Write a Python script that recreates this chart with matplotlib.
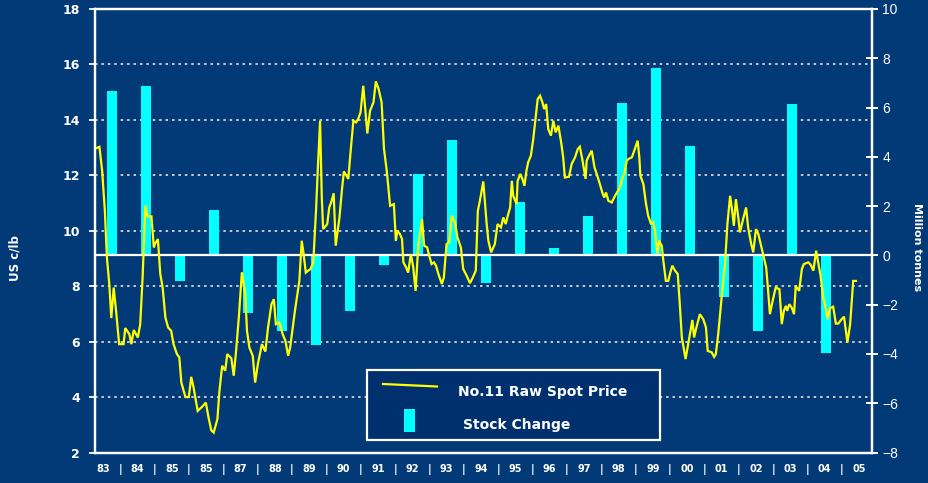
import numpy as np
import matplotlib
matplotlib.use("Agg")
import matplotlib.pyplot as plt
from matplotlib.lines import Line2D
from matplotlib.patches import Rectangle

# ---------------- data ----------------
year_labels = ["83", "84", "85", "85", "87", "88", "89", "90", "91", "92", "93",
               "94", "95", "96", "97", "98", "99", "00", "01", "02", "03", "04", "05"]

stock_years = np.arange(1983, 2005)
stock_change = [6.69, 6.86, -1.04, 1.83, -2.34, -3.07, -3.64, -2.26, -0.39, 3.29, 4.67,
                -1.11, 2.15, 0.28, 1.58, 6.20, 7.59, 4.42, -1.69, -3.07, 6.13, -3.96]

price_t_offset = [
    0.06, 0.13, 0.21, 0.29, 0.35, 0.42, 0.48, 0.55, 0.62, 0.71, 0.84, 0.89, 1.01, 1.07, 1.14,
    1.26, 1.33, 1.40, 1.48, 1.54, 1.66, 1.73, 1.77, 1.85, 1.92, 1.99, 2.07, 2.15, 2.24, 2.31,
    2.41, 2.48, 2.54, 2.66, 2.76, 2.83, 2.90, 3.02, 3.15, 3.26, 3.34, 3.42, 3.49, 3.60, 3.66,
    3.74, 3.83, 3.89, 4.01, 4.08, 4.15, 4.23, 4.32, 4.42, 4.47, 4.54, 4.64, 4.71, 4.79, 4.91,
    5.01, 5.09, 5.19, 5.26, 5.32, 5.42, 5.52, 5.60, 5.68, 5.74, 5.88, 6.01, 6.08, 6.13, 6.20,
    6.27, 6.34, 6.42, 6.50, 6.56, 6.62, 6.67, 6.71, 6.83, 6.89, 6.96, 7.02, 7.08, 7.19, 7.26,
    7.32, 7.45, 7.52, 7.60, 7.68, 7.74, 7.81, 7.89, 8.01, 8.09, 8.19, 8.26, 8.34, 8.43, 8.50,
    8.58, 8.68, 8.79, 8.85, 8.89, 8.97, 9.03, 9.07, 9.15, 9.21, 9.29, 9.36, 9.43, 9.51, 9.56,
    9.62, 9.68, 9.77, 9.83, 9.90, 9.97, 10.03, 10.10, 10.20, 10.26, 10.34, 10.42, 10.49, 10.59,
    10.66, 10.76, 10.83, 10.93, 11.03, 11.11, 11.20, 11.26, 11.32, 11.42, 11.52, 11.57, 11.65,
    11.76, 11.84, 11.94, 12.01, 12.08, 12.14, 12.21, 12.26, 12.30, 12.40, 12.43, 12.51, 12.57,
    12.63, 12.69, 12.74, 12.82, 12.89, 12.96, 13.02, 13.09, 13.16, 13.21, 13.27, 13.33, 13.41,
    13.48, 13.55, 13.63, 13.71, 13.77, 13.82, 13.94, 14.02, 14.12, 14.20, 14.26, 14.33, 14.43,
    14.46, 14.53, 14.61, 14.69, 14.79, 14.85, 14.92, 14.98, 15.03, 15.10, 15.20, 15.27, 15.35,
    15.44, 15.51, 15.57, 15.64, 15.69, 15.79, 15.86, 15.96, 16.01, 16.04, 16.13, 16.20, 16.27,
    16.35, 16.42, 16.47, 16.54, 16.59, 16.67, 16.71, 16.79, 16.86, 16.92, 16.98, 17.06, 17.14,
    17.20, 17.26, 17.37, 17.48, 17.57, 17.62, 17.70, 17.79, 17.89, 17.97, 18.02, 18.14, 18.21,
    18.26, 18.33, 18.43, 18.53, 18.60, 18.68, 18.74, 18.79, 18.85, 18.92, 18.97, 19.05, 19.15,
    19.21, 19.29, 19.36, 19.44, 19.51, 19.58, 19.66, 19.74, 19.79, 19.85, 19.93, 20.02, 20.13,
    20.20, 20.26, 20.32, 20.36, 20.42, 20.49, 20.56, 20.61, 20.71, 20.79, 20.85, 20.98, 21.05,
    21.13, 21.21, 21.27, 21.34, 21.42, 21.49, 21.55, 21.62, 21.71, 21.79, 21.86, 21.96, 22.03,
    22.13, 22.21, 22.30, 22.38]

price_value = [
    12.99, 13.03, 12.17, 10.72, 9.04, 8.08, 6.85, 7.95, 7.11, 5.91, 5.91, 6.49, 6.27, 5.91, 6.42,
    6.15, 6.63, 8.31, 10.90, 10.52, 10.52, 9.40, 9.54, 9.70, 8.44, 7.95, 6.87, 6.51, 6.39, 5.91,
    5.55, 5.43, 4.52, 4.00, 4.00, 4.73, 4.34, 3.50, 3.65, 3.80, 3.26, 2.80, 2.72, 3.20, 4.22,
    5.13, 4.95, 5.55, 5.40, 4.77, 5.67, 6.87, 8.50, 7.71, 6.39, 5.79, 5.49, 4.52, 5.19, 5.91,
    5.64, 6.51, 7.35, 7.53, 6.63, 6.69, 6.27, 6.03, 5.49, 5.79, 7.11, 8.19, 9.64, 9.22, 8.49,
    8.56, 8.62, 8.86, 10.72, 12.41, 13.97, 11.20, 10.06, 10.24, 10.84, 11.08, 11.35, 9.46, 10.48, 11.44,
    12.14, 11.87, 12.89, 13.97, 13.91, 14.03, 14.27, 15.23, 13.51, 14.33, 14.63, 15.39, 15.12, 14.63, 12.95,
    12.17, 10.90, 10.96, 9.64, 10.00, 9.88, 9.70, 8.86, 8.68, 8.49, 9.16, 8.68, 7.83, 9.52, 9.88,
    10.42, 9.46, 9.40, 9.10, 8.80, 8.86, 8.74, 8.44, 8.08, 8.31, 9.52, 9.58, 10.54, 10.30,
    9.76, 9.40, 8.62, 8.38, 8.11, 8.31, 8.56, 10.72, 11.08, 11.78, 10.24, 9.64, 9.22,
    9.52, 10.24, 10.12, 10.48, 10.24, 10.54, 10.84, 11.80, 11.26, 10.96, 11.80, 12.05, 11.87,
    11.62, 12.17, 12.47, 12.71, 13.31, 14.09, 14.75, 14.87, 14.63, 14.39, 14.57, 13.67, 13.43,
    13.97, 13.55, 13.79, 13.19, 12.65, 11.92, 11.95, 12.41, 12.65, 12.95, 13.03, 12.59, 11.87,
    12.53, 12.71, 12.89, 12.29, 11.92, 11.68, 11.38, 11.20, 11.38, 11.08, 11.02, 11.20, 11.38,
    11.56, 11.92, 12.05, 12.53, 12.59, 12.65, 12.89, 13.25, 12.65, 11.99, 11.68, 11.02, 10.54,
    10.26, 10.30, 10.00, 9.18, 9.64, 9.46, 8.98, 8.19, 8.19, 8.49, 8.74, 8.56, 8.44,
    7.35, 6.15, 5.37, 6.15, 6.78, 6.15, 6.57, 6.99, 6.81, 6.51, 5.67, 5.61, 5.45,
    5.55, 6.27, 7.59, 8.80, 10.24, 11.26, 10.72, 10.18, 11.14, 10.48, 9.94, 10.36, 10.84,
    10.12, 9.58, 9.22, 10.06, 9.88, 9.52, 9.10, 8.68, 7.95, 6.99, 7.47, 7.95, 7.89,
    6.63, 7.11, 7.29, 7.11, 7.35, 7.23, 6.99, 8.01, 7.83, 8.62, 8.80, 8.86, 8.77,
    8.56, 9.28, 8.86, 8.38, 7.59, 7.23, 6.81, 7.21, 7.26, 6.65, 6.65, 6.81, 6.90,
    5.97, 6.63, 8.19, 8.19]

price_year = 1983 + np.array(price_t_offset)

# ---------------- style ----------------
BG = "#023a78"
LEG_BG = "#00316e"
W, H = 929, 483
plt.rcParams["font.family"] = ["DejaVu Sans"]

fig = plt.figure(figsize=(W / 100, H / 100), dpi=100, facecolor=BG)

def fx(x):
    return x / W

def fy(y):
    return 1 - y / H

left, right, top, bottom = 95, 872, 9, 452.5
pos = [fx(left), fy(bottom), fx(right) - fx(left), fy(top) - fy(bottom)]

ax = fig.add_axes(pos, facecolor=BG)
ax2 = ax.twinx()
ax3 = fig.add_axes(pos, sharex=ax, sharey=ax)
ax3.axis("off")
ax3.patch.set_visible(False)

xmin, xmax = 1983.0, 1983.0 + (right - left) / 34.0
ax.set_xlim(xmin, xmax)
ax.set_ylim(2, 18)
ax2.set_ylim(-8, 10)

# grid on primary axis
ax.set_yticks(np.arange(2, 19, 2))
ax.grid(axis="y", color="#c8c8c8", linestyle=(0, (1.3, 2.0)), linewidth=1.4)
ax.grid(axis="x", visible=False)

# bars
ax2.bar(stock_years + 0.5, stock_change, width=0.31, color="#00ffff", zorder=2)
ax2.axhline(0, color="white", linewidth=1.6, zorder=3)

# price line
ax3.plot(price_year, price_value, color="#ffff00", linewidth=1.6, solid_joinstyle="miter")

# spines
for a in (ax, ax2):
    for s in a.spines.values():
        s.set_color("white")
        s.set_linewidth(1.6)

# left ticks
ax.tick_params(axis="y", colors="white", length=4, width=1.3, pad=7, labelsize=9)
for lab in ax.get_yticklabels():
    lab.set_fontweight("bold")

# right ticks
ax2.set_yticks(np.arange(-8, 11, 2))
ax2.tick_params(axis="y", colors="white", direction="inout", length=9, width=1.4,
                pad=3, labelsize=10)
for lab in ax2.get_yticklabels():
    lab.set_fontfamily("Liberation Sans")

# x labels
n = len(year_labels)
lab_pos = np.linspace(1983.235, 2005.47, n)
sep_pos = (lab_pos[:-1] + lab_pos[1:]) / 2
ax.set_xticks(lab_pos)
ax.set_xticklabels(year_labels, fontsize=7, fontweight="bold", color="white")
ax.set_xticks(sep_pos, minor=True)
ax.set_xticklabels(["|"] * (n - 1), minor=True, fontsize=7, fontweight="bold", color="white")
ax.tick_params(axis="x", which="both", length=0, pad=8)

# axis titles
fig.text(fx(15), fy(258), "US c/lb", rotation=90, color="white", fontsize=8.5,
         fontweight="bold", ha="center", va="center")
fig.text(fx(917), fy(247), "Million tonnes", rotation=270, color="white", fontsize=8,
         fontweight="bold", ha="center", va="center")

# legend (manual)
fig.patches.append(Rectangle((fx(367), fy(440)), fx(660) - fx(367), fy(370) - fy(440),
                             transform=fig.transFigure, facecolor=LEG_BG,
                             edgecolor="white", linewidth=1.6, zorder=5))
fig.lines.append(Line2D([fx(383), fx(437)], [fy(384), fy(386.5)], transform=fig.transFigure,
                        color="#ffff00", linewidth=1.6, zorder=6))
fig.patches.append(Rectangle((fx(404), fy(432)), fx(415) - fx(404), fy(409) - fy(432),
                             transform=fig.transFigure, facecolor="#00ffff",
                             edgecolor="none", zorder=6))
fig.text(fx(458), fy(392), "No.11 Raw Spot Price", color="white", fontsize=10,
         fontweight="bold", ha="left", va="center", zorder=7)
fig.text(fx(463), fy(424.5), "Stock Change", color="white", fontsize=10,
         fontweight="bold", ha="left", va="center", zorder=7)

fig.savefig("out.png", dpi=100, facecolor=BG)
